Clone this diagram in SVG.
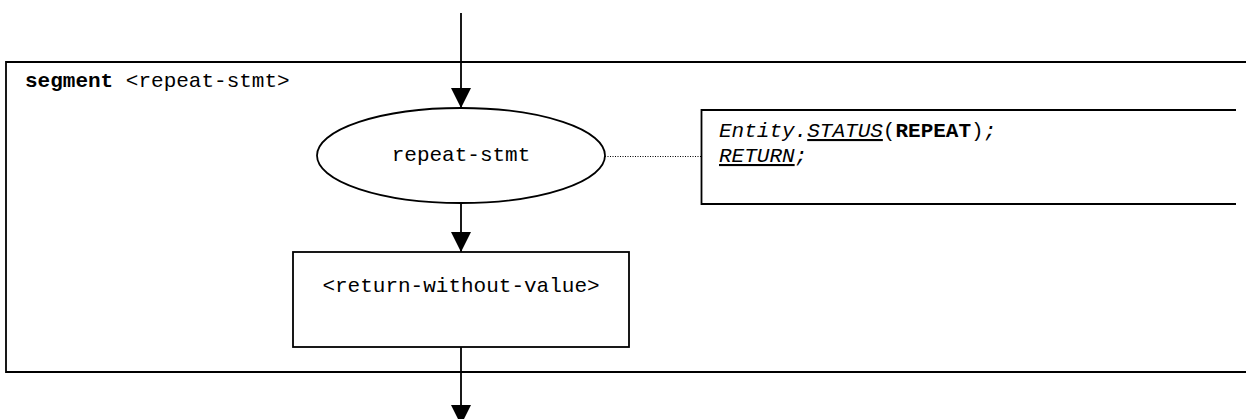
<svg xmlns="http://www.w3.org/2000/svg" width="1246" height="419" viewBox="0 0 1246 419">
<style>
.ln{fill:none;stroke:#000;stroke-width:1.8}
.sh{fill:#fff;stroke:#000;stroke-width:1.8}
.t{font-family:"Liberation Mono","Courier New",monospace;font-size:21px;fill:#000}
.c{text-anchor:middle}
.b{font-weight:bold}
.i{font-style:italic}
.u{text-decoration:underline}
</style>
<defs>
<marker id="ah" markerUnits="userSpaceOnUse" markerWidth="20" markerHeight="20" refX="20" refY="10" orient="auto" viewBox="0 0 20 20">
<path d="M0,0 L20,10 L0,20 Z" fill="#000"/>
</marker>
</defs>
<rect width="1246" height="419" fill="#fff"/>
<g id="segment">
<path class="ln" d="M1246,62 H6 V372 H1246"/>
<text class="t" x="25" y="87"><tspan class="b">segment</tspan> &lt;repeat-stmt&gt;</text>
</g>
<g id="connectors">
<line class="ln" x1="461" y1="13" x2="461" y2="108" marker-end="url(#ah)"/>
<line class="ln" x1="461" y1="203" x2="461" y2="252" marker-end="url(#ah)"/>
<line class="ln" x1="461" y1="347" x2="461" y2="425" marker-end="url(#ah)"/>
<line x1="605" y1="156.5" x2="701" y2="156.5" stroke="#000" stroke-width="1" stroke-dasharray="1,1.5"/>
</g>
<g id="repeat-stmt">
<ellipse class="sh" cx="461" cy="155.5" rx="144" ry="47.5"/>
<text class="t c" x="461" y="161">repeat-stmt</text>
</g>
<g id="note">
<path class="ln" d="M1236,110 H701.5 V204 H1236"/>
<text class="t" x="719" y="137"><tspan class="i">Entity.</tspan><tspan class="i u">STATUS</tspan>(<tspan class="b">REPEAT</tspan>)<tspan class="i">;</tspan></text>
<text class="t" x="719" y="162"><tspan class="i u">RETURN</tspan><tspan class="i">;</tspan></text>
</g>
<g id="return-without-value">
<rect class="sh" x="293" y="252" width="336" height="95"/>
<text class="t c" x="461" y="292">&lt;return-without-value&gt;</text>
</g>
</svg>
